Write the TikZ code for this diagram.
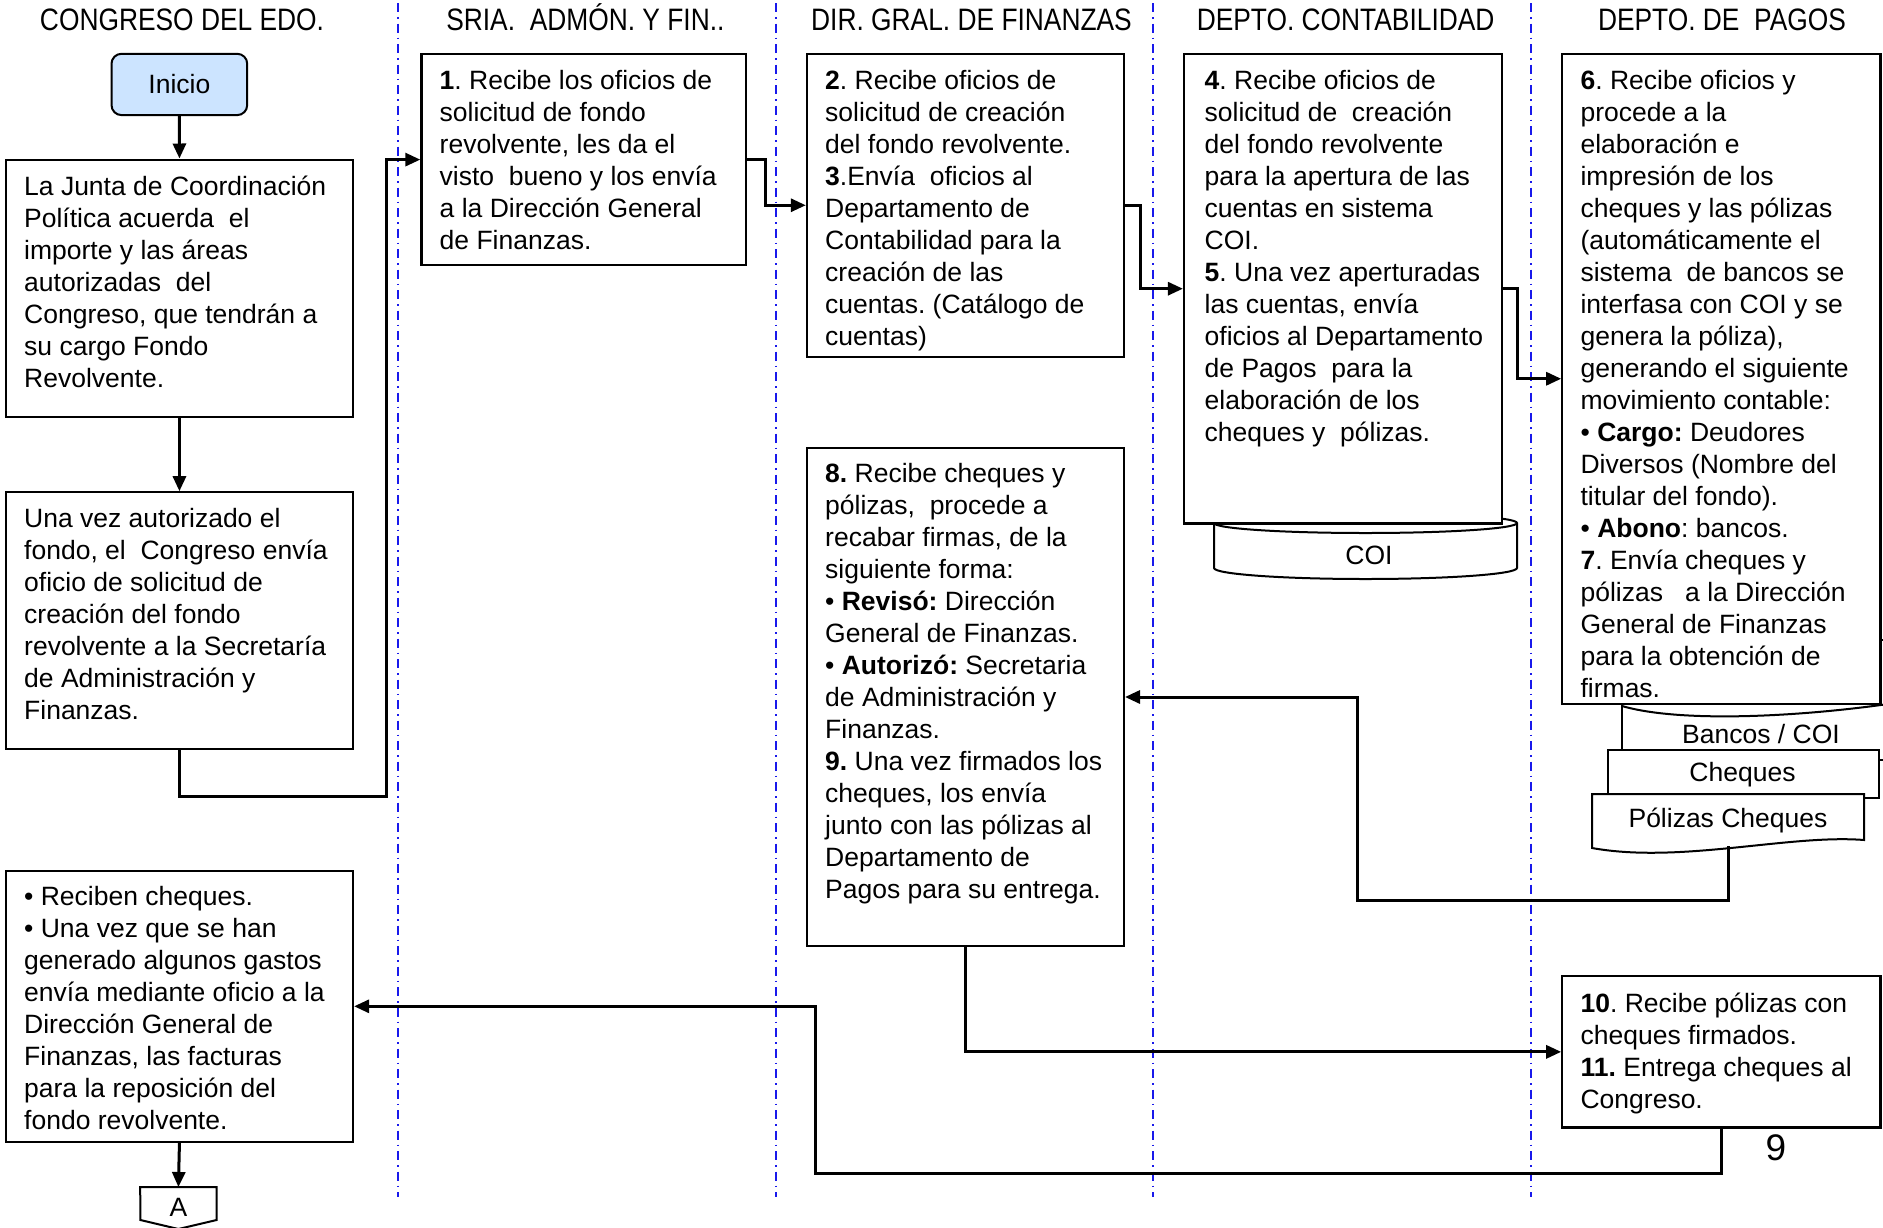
\documentclass[tikz,border=0pt]{standalone}
\usepackage{fontspec}
\setmainfont{Liberation Sans}
\newfontfamily\hdrfont{Liberation Sans}[FakeStretch=0.85]
\usetikzlibrary{arrows.meta,calc}
\definecolor{inicioblue}{RGB}{204,228,255}
\definecolor{laneblue}{RGB}{25,25,235}
\begin{document}
\begin{tikzpicture}[x=1pt,y=-1pt,
  box/.style={draw, line width=2.2pt, fill=white, inner sep=0pt, anchor=north west},
  txt/.style={align=left, inner sep=0pt, anchor=base west, font=\fontsize{26.5}{32}\selectfont\frenchspacing},
  lbl/.style={inner sep=0pt, anchor=base, font=\fontsize{26.5}{32}\selectfont},
  hdr/.style={inner sep=0pt, anchor=base, font=\hdrfont\fontsize{31}{36}\selectfont},
  conn/.style={line width=3pt, -{Triangle[length=15pt,width=13pt]}},
  lane/.style={laneblue, line width=2pt, dash pattern=on 9pt off 5pt on 1.5pt off 5pt},
  doc/.style={draw, line width=2pt, fill=white},
  hold/.style={inner sep=0pt, anchor=north west}
]
\useasboundingbox (0,0) rectangle (1883,1227);
\clip (0,0) rectangle (1883,1227);

% headers
\node[hdr] (h1) at (182,30) {CONGRESO DEL EDO.};
\node[hdr] (h2) at (585.4,30) {SRIA.\ \ ADMÓN. Y FIN..};
\node[hdr] (h3) at (971.5,30) {DIR. GRAL. DE FINANZAS};
\node[hdr] (h4) at (1345.6,30) {DEPTO. CONTABILIDAD};
\node[hdr] (h5) at (1722,30) {DEPTO. DE\ \ PAGOS};

% lane dividers
\draw[lane] (397.5,3) -- (397.5,1197);
\draw[lane] (775.8,3) -- (775.8,1197);
\draw[lane] (1152.9,3) -- (1152.9,1197);
\draw[lane] (1531.2,3) -- (1531.2,1197);

% Column 1
\node[draw, line width=2pt, rounded corners=10pt, fill=inicioblue, inner sep=0pt, anchor=north west,
      minimum width=135.7pt, minimum height=61.3pt, font=\fontsize{26.5}{32}\selectfont] (ini) at (110.5,52.8) {Inicio};

\node[box, minimum width=347.1pt, minimum height=257pt] (bA) at (4.8,158.5) {};
\node[txt] (tA) at (24,387) {La Junta de Coordinación\\
Política acuerda\ \ el\\
importe y las áreas\\
autorizadas\ \ del\\
Congreso, que tendrán a\\
su cargo Fondo\\
Revolvente.};

\node[box, minimum width=347.1pt, minimum height=257pt] (bB) at (4.8,491.2) {};
\node[txt] (tB) at (24,719.5) {Una vez autorizado el\\
fondo, el\ \ Congreso envía\\
oficio de solicitud de\\
creación del fondo\\
revolvente a la Secretaría\\
de Administración y\\
Finanzas.};

\node[box, minimum width=347.1pt, minimum height=271.4pt] (bC) at (4.8,869.5) {};
\node[txt] (tC) at (24,1129) {• Reciben cheques.\\
• Una vez que se han\\
generado algunos gastos\\
envía mediante oficio a la\\
Dirección General de\\
Finanzas, las facturas\\
para la reposición del\\
fondo revolvente.};

% off-page connector A
\node[hold, minimum width=76pt, minimum height=40pt, anchor=north] (conA) at (178.4,1187) {};
\draw[line width=2pt, fill=white] (conA.north west) -- (conA.north east) -- ++(0,33) -- (178.4,1229) -- (140.4,1220) -- cycle;
\node[lbl] (tAconn) at (178.4,1216) {A};

% Column 2
\node[box, minimum width=324.3pt, minimum height=211.4pt] (b1) at (420.3,52.8) {};
\node[txt] (t1) at (439.5,249.5) {\textbf{1}. Recibe los oficios de\\
solicitud de fondo\\
revolvente, les da el\\
visto\ \ bueno y los envía\\
a la Dirección General\\
de Finanzas.};

% Column 3
\node[box, minimum width=317pt, minimum height=302.7pt] (b2) at (805.8,52.8) {};
\node[txt] (t2) at (825,345.5) {\textbf{2}. Recibe oficios de\\
solicitud de creación\\
del fondo revolvente.\\
\textbf{3}.Envía\ \ oficios al\\
Departamento de\\
Contabilidad para la\\
creación de las\\
cuentas. (Catálogo de\\
cuentas)};

\node[box, minimum width=317pt, minimum height=498.4pt] (b8) at (805.8,446.7) {};
\node[txt] (t8) at (825,898) {\textbf{8.} Recibe cheques y\\
pólizas,\ \ procede a\\
recabar firmas, de la\\
siguiente forma:\\
• \textbf{Revisó:} Dirección\\
General de Finanzas.\\
• \textbf{Autorizó:} Secretaria\\
de Administración y\\
Finanzas.\\
\textbf{9.} Una vez firmados los\\
cheques, los envía\\
junto con las pólizas al\\
Departamento de\\
Pagos para su entrega.};

% Column 4: COI cylinder then box 4
\draw[line width=2pt, fill=white] (1214,523) -- (1214,568)
   arc[start angle=180, end angle=0, x radius=151.5, y radius=11] -- (1517,523)
   arc[start angle=0, end angle=-180, x radius=151.5, y radius=10] -- cycle;
\draw[line width=2pt] (1214,523) arc[start angle=180, end angle=0, x radius=151.5, y radius=10];
\node[lbl] (coi) at (1369,564) {COI};

\node[box, minimum width=318.2pt, minimum height=469.6pt] (b4) at (1182.9,52.8) {};
\node[txt] (t4) at (1204.5,441.5) {\textbf{4}. Recibe oficios de\\
solicitud de\ \ creación\\
del fondo revolvente\\
para la apertura de las\\
cuentas en sistema\\
COI.\\
\textbf{5}. Una vez aperturadas\\
las cuentas, envía\\
oficios al Departamento\\
de Pagos\ \ para la\\
elaboración de los\\
cheques y\ \ pólizas.};

% Column 5: stacked documents behind box 6
\draw[doc] (1622,640) -- (1622,760) -- (1895,760) -- (1895,640) -- cycle;
\draw[line width=2pt] (1622,706) .. controls (1680,723) and (1800,717) .. (1895,703);
\node[lbl] (bco) at (1761,743) {Bancos / COI};

\node[box, minimum width=318.2pt, minimum height=649.7pt] (b6) at (1561.2,52.8) {};
\node[txt] (t6) at (1580.4,697.5) {\textbf{6}. Recibe oficios y\\
procede a la\\
elaboración e\\
impresión de los\\
cheques y las pólizas\\
(automáticamente el\\
sistema\ \ de bancos se\\
interfasa con COI y se\\
genera la póliza),\\
generando el siguiente\\
movimiento contable:\\
• \textbf{Cargo:} Deudores\\
Diversos (Nombre del\\
titular del fondo).\\
• \textbf{Abono}: bancos.\\
\textbf{7}. Envía cheques y\\
pólizas\ \ \ a la Dirección\\
General de Finanzas\\
para la obtención de\\
firmas.};

\node[hold, draw, line width=2pt, fill=white, minimum width=271pt, minimum height=48pt] (chq) at (1607,749) {};
\node[lbl] (tchq) at (1742.5,781) {Cheques};

\node[hold, minimum width=272pt, minimum height=52pt] (pol) at (1592,794) {};
\draw[doc] (1592,794) -- (1864,794) -- (1864,840)
   .. controls (1790,834) and (1680,864) .. (1592,848) -- cycle;
\node[lbl] (tpol) at (1728,827) {Pólizas Cheques};

\node[box, minimum width=318.2pt, minimum height=151.3pt] (b10) at (1561.2,975.1) {};
\node[txt] (t10) at (1580.4,1108) {\textbf{10}. Recibe pólizas con\\
cheques firmados.\\
\textbf{11.} Entrega cheques al\\
Congreso.};

\node[inner sep=0pt, anchor=base, font=\fontsize{37}{40}\selectfont] (pg) at (1776,1160) {9};

% bend points
\coordinate (k1) at (386.7,796);
\coordinate (k3) at (1357,900.7);
\coordinate (k4) at (815.4,1173.3);

% connectors
\draw[conn] (ini.south) -- (bA.north);
\draw[conn] (bA.south) -- (bB.north);
\draw[conn] (bB.south) |- (k1) |- (b1.west);
\draw[conn] (b1.east) -- ++(19,0) |- (b2.west);
\draw[conn] (b2.east) -- ++(15.6,0) |- (b4.west);
\draw[conn] (b4.east) -- ++(14.4,0) |- (b6.west);
\draw[conn] (pol.south) |- (k3) |- (b8.east);
\draw[conn] (b8.south) |- (b10.west);
\draw[conn] (b10.south) |- (k4) |- (bC.east);
\draw[conn] (bC.south) -- (conA.north);
\end{tikzpicture}
\end{document}
